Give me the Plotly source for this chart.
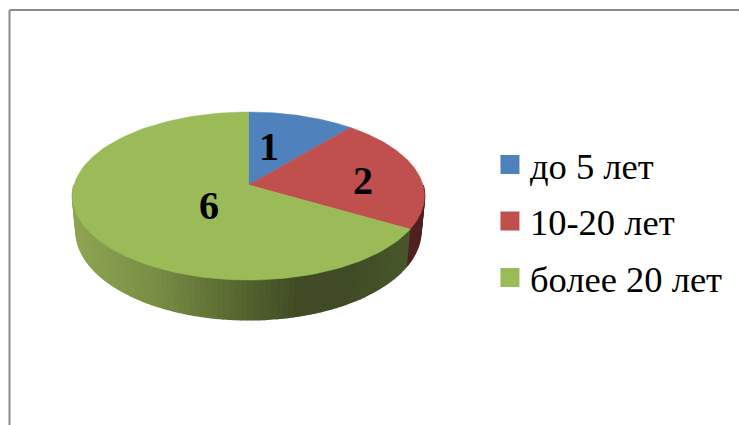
import numpy as np
import plotly.graph_objects as go

categories = ["до 5 лет", "10-20 лет", "более 20 лет"]
values = [1, 2, 6]

# styles
colors = ["#4f81bd", "#c0504d", "#9bbb59"]
W, H = 739, 425
CX, K, C, A, B = 248.5, 174.5, 0.131, -58.33, 185.0  # perspective of the disc
label_r = [0.5, 0.6, 0.25]
label_shift = [(-8, 2), (13, -4), (-1, -10)]
SERIF = "Liberation Serif"

def top(rad, ang):
    u, v = rad * np.sin(ang), rad * np.cos(ang)
    d = 1 + C * v
    return CX + K * u / d, (A * v + B) / d

def bottom(ang):
    x, y = top(1.0, ang)
    return CX + (x - CX) * 0.98, 1.06 * y + 23

# x-position → side shading (R, G, B) for each slice
shade_x = [72, 150, 230, 300, 350, 410]
shade_green = [(142, 166, 83), (122, 144, 70), (91, 107, 50), (64, 75, 37), (64, 76, 38), (72, 88, 43)]
shade_red = [(80, 33, 32), (80, 33, 32)]

fig = go.Figure()
cum = np.cumsum([0] + values) / sum(values) * 2 * np.pi

# side wall
for i, col in enumerate(colors):
    a0, a1 = max(cum[i], np.pi / 2), min(cum[i + 1], 1.5 * np.pi)
    if a1 <= a0:
        continue
    n = max(2, int((a1 - a0) / 0.03))
    edges = np.linspace(a0, a1, n + 1)
    for s in range(n):
        e = np.linspace(edges[s], edges[s + 1], 3)
        xt, yt = top(1.0, e)
        xb, yb = bottom(e)
        xm = xt.mean()
        if i == 2:
            rgb = [np.interp(xm, shade_x, [c[k] for c in shade_green]) for k in range(3)]
        else:
            rgb = shade_red[0]
        css = f"rgb({int(rgb[0])},{int(rgb[1])},{int(rgb[2])})"
        fig.add_trace(go.Scatter(
            x=np.r_[xt, xb[::-1]], y=np.r_[yt, yb[::-1]], mode="lines", fill="toself",
            fillcolor=css, line=dict(color=css, width=1.5), hoverinfo="skip", showlegend=False))

# top face
for i, col in enumerate(colors):
    e = np.linspace(cum[i], cum[i + 1], 120)
    xt, yt = top(1.0, e)
    xc, yc = top(0.0, 0.0)
    fig.add_trace(go.Scatter(
        x=np.r_[xc, xt, xc], y=np.r_[yc, yt, yc], mode="lines", fill="toself",
        fillcolor=col, line=dict(color=col, width=0.5), hoverinfo="skip", showlegend=False))

# legend
for cat, col in zip(categories, colors):
    fig.add_trace(go.Scatter(
        x=[None], y=[None], mode="markers", name=cat, legendgroup=cat,
        marker=dict(symbol="square", size=16, color=col, line=dict(color=col, width=3))))

# data labels
for i, val in enumerate(values):
    mid = (cum[i] + cum[i + 1]) / 2
    lx, ly = top(label_r[i], mid)
    fig.add_annotation(x=float(lx), y=float(ly), text=f"<b>{val}</b>", showarrow=False,
                       xshift=label_shift[i][0], yshift=label_shift[i][1],
                       font=dict(family=SERIF, size=40, color="black"))

frame = dict(type="line", xref="x", yref="y", line=dict(color="#8c8c8c", width=2))
fig.update_layout(
    width=W, height=H, margin=dict(l=0, r=0, t=0, b=0), autosize=False,
    paper_bgcolor="white", plot_bgcolor="white",
    xaxis=dict(range=[0, W], visible=False, fixedrange=True),
    yaxis=dict(range=[H, 0], visible=False, fixedrange=True),
    legend=dict(x=0.663, y=0.684, xanchor="left", yanchor="top", tracegroupgap=6,
                font=dict(family=SERIF, size=36.5, color="black"), itemwidth=30,
                bgcolor="rgba(0,0,0,0)"),
    shapes=[dict(frame, x0=9.5, y0=10, x1=W, y1=10), dict(frame, x0=9.5, y0=10, x1=9.5, y1=H)],
)
fig.write_html("out.html", config={"displayModeBar": False},
               post_script="document.body.style.margin='0';")
